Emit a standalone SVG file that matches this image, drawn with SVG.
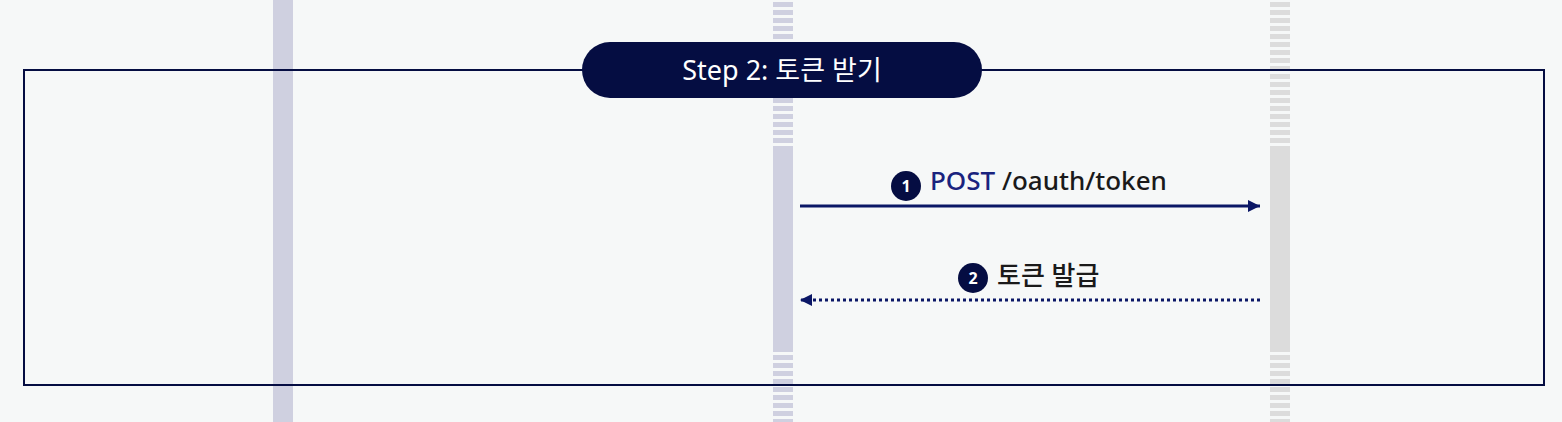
<svg xmlns="http://www.w3.org/2000/svg" width="1562" height="422" viewBox="0 0 1562 422">
<defs>
<style>
.lbl{font-family:"Noto Sans","Noto Sans CJK KR",sans-serif;font-size:26px;font-weight:500;fill:#1a1a1a}
.num{font-family:"Noto Sans","Noto Sans CJK KR",sans-serif;font-size:16px;font-weight:bold;fill:#ffffff;text-anchor:middle}
.badge{fill:#050d42}
.stripeA{stroke:#cfd0e0;stroke-width:20;stroke-dasharray:5 3}
.stripeB{stroke:#dcdcdc;stroke-width:20;stroke-dasharray:5 3}
</style>
<marker id="ah" markerWidth="12" markerHeight="12" refX="12" refY="6" orient="auto" markerUnits="userSpaceOnUse">
<path d="M0,0 L12,6 L0,12 Z" fill="#0b1766"/>
</marker>
</defs>
<rect width="1562" height="422" fill="#f6f8f8"/>
<g id="lifelines">
<rect x="273" y="0" width="20" height="422" fill="#cfd0e0"/>
<line class="stripeA" x1="783" y1="2" x2="783" y2="150"/>
<rect x="773" y="150" width="20" height="202" fill="#cfd0e0"/>
<line class="stripeA" x1="783" y1="355" x2="783" y2="422"/>
<line class="stripeB" x1="1280" y1="2" x2="1280" y2="150"/>
<rect x="1270" y="150" width="20" height="202" fill="#dcdcdc"/>
<line class="stripeB" x1="1280" y1="355" x2="1280" y2="422"/>
</g>
<g id="frame">
<rect x="24" y="70" width="1520" height="315" fill="none" stroke="#050d42" stroke-width="2"/>
</g>
<g id="title">
<rect x="582" y="42" width="400" height="56" rx="28" fill="#050d42"/>
<text x="782" y="80" text-anchor="middle" style="font-family:'Noto Sans','Noto Sans CJK KR',sans-serif;font-size:27px;fill:#ffffff">Step 2: 토큰 받기</text>
</g>
<g id="connectors">
<line x1="800" y1="206" x2="1260" y2="206" stroke="#0b1766" stroke-width="3" marker-end="url(#ah)"/>
<line x1="1260" y1="300" x2="800" y2="300" stroke="#0b1766" stroke-width="3" stroke-dasharray="3 3" marker-end="url(#ah)"/>
</g>
<g id="msg1">
<circle class="badge" cx="906" cy="186" r="15"/>
<text class="num" x="906" y="192">1</text>
<text class="lbl" x="930" y="190"><tspan fill="#1a237e">POST</tspan> /oauth/token</text>
</g>
<g id="msg2">
<circle class="badge" cx="973" cy="278" r="15"/>
<text class="num" x="973" y="284">2</text>
<text class="lbl" x="997" y="285">토큰 발급</text>
</g>
</svg>
